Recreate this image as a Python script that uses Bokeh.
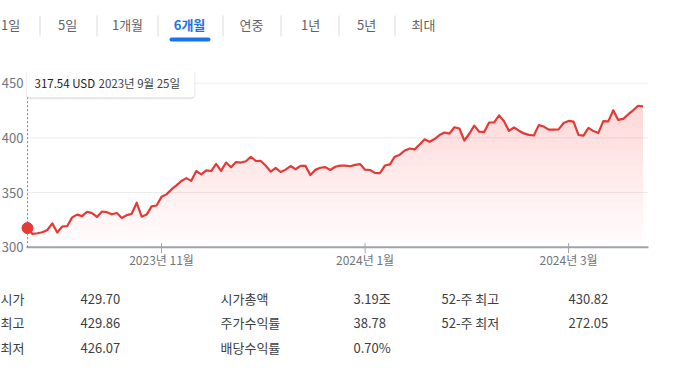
import numpy as np
from bokeh.plotting import figure
from bokeh.models import Label, BoxAnnotation, Range1d
from bokeh.embed import file_html
from bokeh.resources import INLINE
from bokeh.core.properties import value

# ---------------- data ----------------
closes = [
    317.54, 312.14, 312.79, 313.64, 315.75,
    321.80, 313.39, 318.96, 319.36, 327.26,
    329.82, 328.39, 332.42, 331.16, 327.73,
    332.64, 332.06, 330.11, 331.32, 326.67,
    329.32, 330.53, 340.67, 327.89, 329.81,
    337.31, 338.11,
    346.07, 348.32, 352.80,
    356.53, 360.53, 363.20, 360.69, 369.67,
    366.68, 370.27, 369.67, 376.17, 369.85,
    377.44, 373.07, 377.85, 377.43,
    378.61, 382.70, 378.85, 378.91,
    374.51,
    369.14, 372.52, 368.80, 370.95, 374.23,
    371.30, 374.38, 374.37, 365.93, 370.73,
    372.65, 373.26, 370.62, 373.54, 374.58,
    374.66, 374.07, 375.28, 376.04,
    370.87, 370.60, 367.94, 367.75,
    374.69, 375.79, 382.77, 384.63, 388.47,
    390.27, 389.47, 393.87, 398.67,
    396.51, 398.90, 402.56, 404.87, 403.93,
    409.72, 408.59, 397.58,
    403.78, 411.22,
    405.65, 405.49, 414.05, 414.11, 420.55,
    415.26, 406.32, 409.49, 406.56, 404.06,
    402.79, 402.18, 411.65, 410.34,
    407.54, 407.48, 407.72, 413.64,
    415.50,
    414.92, 402.65, 402.09, 409.14, 406.22,
    404.52, 415.28, 415.10, 425.22, 416.42,
    417.32, 421.41, 425.23, 429.37, 428.74,
]
first_date_label = "2023년 9월 25일"
currency = "USD"

x_tick_index = [27, 68, 109]          # first trading day of Nov, Jan, Mar
x_tick_labels = ["2023년 11월", "2024년 1월", "2024년 3월"]
y_ticks = [300, 350, 400, 450]

tabs = ["1일", "5일", "1개월", "6개월", "연중", "1년", "5년", "최대"]
selected_tab = "6개월"

stat_names_1 = ["시가", "최고", "최저"]
stat_values_1 = ["429.70", "429.86", "426.07"]
stat_names_2 = ["시가총액", "주가수익률", "배당수익률"]
stat_values_2 = ["3.19조", "38.78", "0.70%"]
stat_names_3 = ["52-주 최고", "52-주 최저"]
stat_values_3 = ["430.82", "272.05"]

# ---------------- layout constants (pixels, top-left origin) ----------------
W, H = 670, 368
PLOT_L, PLOT_R = 26, 648      # plot area horizontal extent
AXIS_Y = 246.7                # pixel row of the base value (axis line)
PX_PER_UNIT = 1.0933          # vertical pixels per USD
X_LO, X_HI = -0.2, 125.1      # index range shown in the plot area
FONT = "Noto Sans CJK KR"
RED = "#e53935"
GRAY_TXT = "#70757a"
DARK_TXT = "#3c4043"
AXIS_C = "#a0a4a8"

idx = np.arange(len(closes))
vals = np.array(closes)
base = y_ticks[0]
kx = (PLOT_R - PLOT_L) / (X_HI - X_LO)


def dx(px):   # pixel column -> index units
    return X_LO + (px - PLOT_L) / kx


def dy(py):   # pixel row -> price units
    return base + (AXIS_Y - py) / PX_PER_UNIT


p = figure(width=W, height=H, output_backend="svg", toolbar_location=None,
           x_range=Range1d(dx(0), dx(W)), y_range=Range1d(dy(H), dy(0)),
           x_axis_location=None, y_axis_location=None,
           min_border=0, min_border_left=0, min_border_right=0,
           min_border_top=0, min_border_bottom=0)
p.outline_line_color = None
p.background_fill_color = "white"
p.border_fill_color = "white"
p.grid.visible = False

# gridlines
grid_vals = [t for t in y_ticks if t != base]
p.segment(x0=[X_LO] * len(grid_vals), y0=grid_vals, x1=[X_HI] * len(grid_vals), y1=grid_vals,
          line_color="#ededed", line_width=1)

# gradient area (stacked translucent layers)
n_layers = 20
levels = np.linspace(base, vals.max(), n_layers)
for b in levels:
    p.varea(x=idx, y1=np.full(len(vals), b), y2=np.maximum(vals, b),
            fill_color=RED, fill_alpha=0.01)

# x axis (line, ticks, labels)
p.segment(x0=[X_LO], y0=[base], x1=[X_HI], y1=[base], line_color=AXIS_C, line_width=2)
p.segment(x0=x_tick_index, y0=[dy(AXIS_Y - 4)] * 3, x1=x_tick_index, y1=[dy(AXIS_Y + 6)] * 3,
          line_color=AXIS_C, line_width=1)
p.text(x=x_tick_index, y=[dy(259)] * 3, text=x_tick_labels, text_align="center",
       text_baseline="middle", text_font=value(FONT), text_font_size="12px",
       text_color=GRAY_TXT)

# y tick labels
p.text(x=[dx(23)] * len(y_ticks), y=y_ticks, text=[str(t) for t in y_ticks],
       text_align="right", text_baseline="middle", text_font=value(FONT),
       text_font_size="13px", text_color=GRAY_TXT)

# tooltip geometry
tip_top, tip_bottom = 69, 97
x_pt = PLOT_L + (idx[0] - X_LO) * kx
p.segment(x0=[idx[0]], y0=[base], x1=[idx[0]], y1=[dy(tip_bottom)],
          line_color="#80868b", line_width=1, line_dash="2 2")

p.line(idx, vals, line_color=RED, line_width=2.2, line_join="round")
p.scatter([idx[0]], [vals[0]], size=11, fill_color=RED, line_color=RED)


def box(x0, x1, y0, y1, color, alpha=1.0, radius=0):
    p.add_layout(BoxAnnotation(left=x0, right=x1, top=H - y0, bottom=H - y1,
                               left_units="screen", right_units="screen",
                               top_units="screen", bottom_units="screen",
                               fill_color=color, fill_alpha=alpha, line_color=None,
                               border_radius=radius))


def lab(text, cx, cy, size="13px", color=DARK_TXT, align="left", weight="normal"):
    p.add_layout(Label(x=cx, y=H - cy, x_units="screen", y_units="screen",
                       text=text, text_baseline="middle", text_align=align,
                       text_font=FONT, text_font_size=size, text_color=color,
                       text_font_style=weight))


# tooltip box + texts
tl, tr = x_pt - 1, x_pt + 167
box(tl - 1, tr + 1, tip_top, tip_bottom + 2, "#000000", 0.05, 5)
box(tl, tr, tip_top + 1, tip_bottom + 1, "#000000", 0.10, 4)
box(tl, tr, tip_top, tip_bottom, "#ffffff", 1.0, 4)
lab(f"{closes[0]:.2f} {currency}", tl + 8, 82, size="11.5px", color="#202124")
lab(first_date_label, tl + 72, 82, size="11.5px", color="#3c4043")

# tabs
tab_centers = [10, 67, 127, 189, 251, 310, 366, 423]
for sx in [39, 96, 157, 222, 280, 338, 394]:
    box(sx, sx + 1, 15, 36, "#dadce0")
sel_c = tab_centers[tabs.index(selected_tab)]
box(sel_c - 20, sel_c + 21, 37, 41, "#1a73e8", 1.0, 3)
for t, c in zip(tabs, tab_centers):
    sel = t == selected_tab
    lab(t, c, 24, size="13px", color="#1a73e8" if sel else "#5f6368", align="center",
        weight="bold" if sel else "normal")

# stats table
rows_y = [298, 322, 347]
for names, values_, xn, xv in [(stat_names_1, stat_values_1, 0, 80),
                                (stat_names_2, stat_values_2, 220, 353),
                                (stat_names_3, stat_values_3, 441, 568)]:
    for n, v, y in zip(names, values_, rows_y):
        lab(n, xn, y)
        lab(v, xv, y)

open("out.html", "w").write(file_html(p, INLINE))
